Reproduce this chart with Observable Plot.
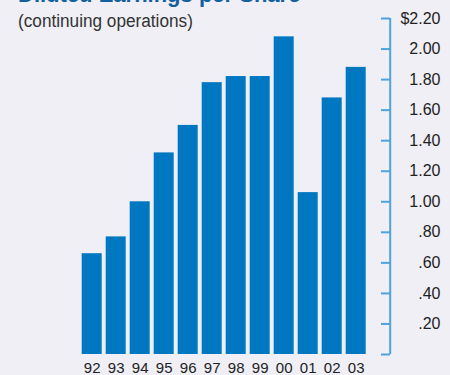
<!DOCTYPE html>
<html>
<head>
<meta charset="utf-8">
<script src="https://cdn.jsdelivr.net/npm/d3@7"></script>
<script src="https://cdn.jsdelivr.net/npm/@observablehq/plot@0.6"></script>
<style>
  html, body { margin: 0; padding: 0; background: #f0eff6; }
  #wrap { position: relative; width: 450px; height: 375px; overflow: hidden; background: #f0eff6; font-family: "Liberation Sans", Arial, sans-serif; }
  #title { position: absolute; left: 18px; top: -16px; font-size: 22px; font-weight: bold; color: #14609f; white-space: nowrap; line-height: 1; }
  #subtitle { position: absolute; left: 18px; top: 12.3px; font-size: 18px; color: #333; white-space: nowrap; line-height: 1; transform: scaleX(0.955); transform-origin: left top; }
  #chart { position: absolute; left: 0; top: 0; }
</style>
</head>
<body>
<div id="wrap">
  <div id="chart"></div>
  <div id="title">Diluted Earnings per Share</div>
  <div id="subtitle">(continuing operations)</div>
</div>
<script>
const years = ["92", "93", "94", "95", "96", "97", "98", "99", "00", "01", "02", "03"];
const eps = [0.66, 0.77, 1.00, 1.32, 1.50, 1.78, 1.82, 1.82, 2.08, 1.06, 1.68, 1.88];
const tickValues = [0, 0.2, 0.4, 0.6, 0.8, 1.0, 1.2, 1.4, 1.6, 1.8, 2.0, 2.2];
const tickLabels = ["", ".20", ".40", ".60", ".80", "1.00", "1.20", "1.40", "1.60", "1.80", "2.00", "$2.20"];

const data = years.map((y, i) => ({year: y, eps: eps[i]}));
const ticks = tickValues.map((v, i) => ({v, label: tickLabels[i]}));

const barColor = "#0078c1";
const axisColor = "#4ea3dc";

const chart = Plot.plot({
  width: 450,
  height: 375,
  marginLeft: 0,
  marginRight: 60,
  marginTop: 18,
  marginBottom: 21,
  style: {background: "transparent", fontFamily: "'Liberation Sans', Arial, sans-serif", color: "#222"},
  x: {type: "band", domain: years, range: [77.7, 369.7], padding: 1/6, round: false, axis: null},
  y: {domain: [0, 2.2], axis: null},
  marks: [
    Plot.barY(data, {x: "year", y: "eps", fill: barColor}),
    Plot.text(data, {x: "year", text: "year", frameAnchor: "bottom", lineAnchor: "top", dy: 8, fontSize: 15, fill: "#222"}),
    Plot.ruleX([years[years.length - 1]], {x: d => d, y1: 0, y2: 2.2, dx: 34, stroke: axisColor, strokeWidth: 2}),
    Plot.ruleY(ticks, {y: "v", insetLeft: 381, stroke: axisColor, strokeWidth: 2}),
    Plot.text(ticks, {y: "v", text: "label", frameAnchor: "right", textAnchor: "end", dx: 50, fontSize: 16, fill: "#222"})
  ]
});
document.getElementById("chart").appendChild(chart);
</script>
</body>
</html>
